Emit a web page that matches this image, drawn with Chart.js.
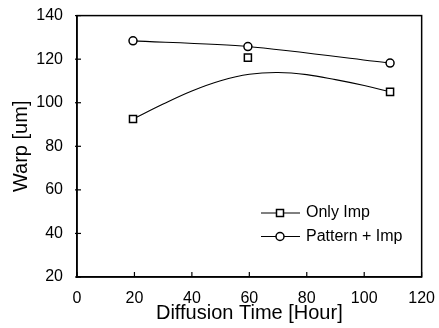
<!DOCTYPE html>
<html>
<head>
<meta charset="utf-8">
<script src="https://cdn.jsdelivr.net/npm/chart.js@4"></script>
<style>
  body { margin: 0; background: #fff; }
  #wrap { width: 439px; height: 328px; }
</style>
</head>
<body>
<div id="wrap"><canvas id="grafico" width="439" height="328"></canvas></div>
<script>
// dados
const horas = [19.5, 59.5, 109];
const onlyImp = [92.5, 120.7, 105];
const patternImp = [128.4, 125.8, 118.2];

// curva ajustada (Only Imp), lida ponto a ponto
const horasAjuste = [19.5, 30, 40, 50, 60, 70, 80, 90, 100, 109];
const valoresAjuste = [92.5, 99.4, 105.4, 110.1, 113.1, 113.9, 112.9, 110.6, 107.9, 105];

const xTicks = [0, 20, 40, 60, 80, 100, 120];
const yTicks = [20, 40, 60, 80, 100, 120, 140];

const legendas = ['Only Imp', 'Pattern + Imp'];

const fonte = "'Liberation Sans', Arial, sans-serif";

const pares = (xs, ys) => xs.map((x, i) => ({ x: x, y: ys[i] }));

// moldura + ticks para dentro
const molduraPlugin = {
  id: 'moldura',
  afterDraw(chart) {
    const { ctx, chartArea: a, scales } = chart;
    ctx.save();
    ctx.strokeStyle = '#000';
    ctx.lineWidth = 1.5;
    ctx.strokeRect(a.left, a.top, a.right - a.left, a.bottom - a.top);
    ctx.lineWidth = 1.2;
    xTicks.forEach(v => {
      const px = scales.x.getPixelForValue(v);
      ctx.beginPath();
      ctx.moveTo(px, a.bottom);
      ctx.lineTo(px, a.bottom - 5);
      ctx.stroke();
    });
    yTicks.forEach(v => {
      const py = scales.y.getPixelForValue(v);
      ctx.beginPath();
      ctx.moveTo(a.left - 2, py);
      ctx.lineTo(a.left + 4, py);
      ctx.stroke();
    });
    ctx.restore();
  }
};

// legenda dentro do grafico
const legendaPlugin = {
  id: 'legendaInterna',
  afterDraw(chart) {
    const { ctx } = chart;
    const itens = [
      { texto: legendas[0], ds: chart.data.datasets[0] },
      { texto: legendas[1], ds: chart.data.datasets[1] }
    ];
    ctx.save();
    ctx.font = '16px ' + fonte;
    ctx.textBaseline = 'middle';
    ctx.fillStyle = '#000';
    itens.forEach((it, i) => {
      const y = 213 + i * 23.5;
      ctx.strokeStyle = '#000';
      ctx.lineWidth = 1;
      ctx.beginPath();
      ctx.moveTo(261, y);
      ctx.lineTo(300, y);
      ctx.stroke();
      ctx.fillStyle = '#fff';
      ctx.lineWidth = 1.5;
      if (it.ds.pointStyle === 'rect') {
        ctx.fillRect(276.5, y - 3.5, 7, 7);
        ctx.strokeRect(276.5, y - 3.5, 7, 7);
      } else {
        ctx.beginPath();
        ctx.arc(280, y, 4, 0, Math.PI * 2);
        ctx.fill();
        ctx.stroke();
      }
      ctx.fillStyle = '#000';
      ctx.fillText(it.texto, 306, y);
    });
    ctx.restore();
  }
};

new Chart(document.getElementById('grafico'), {
  type: 'scatter',
  data: {
    datasets: [
      {
        label: legendas[0],
        data: pares(horas, onlyImp),
        showLine: false,
        pointStyle: 'rect',
        pointRadius: 5,
        pointBackgroundColor: '#fff',
        pointBorderColor: '#000',
        pointBorderWidth: 1.5
      },
      {
        label: legendas[1],
        data: pares(horas, patternImp),
        showLine: true,
        tension: 0.25,
        borderColor: '#000',
        borderWidth: 1.1,
        pointStyle: 'circle',
        pointRadius: 4,
        pointBackgroundColor: '#fff',
        pointBorderColor: '#000',
        pointBorderWidth: 1.5
      },
      {
        label: 'ajuste',
        data: pares(horasAjuste, valoresAjuste),
        showLine: true,
        tension: 0.4,
        borderColor: '#000',
        borderWidth: 1.1,
        pointRadius: 0
      }
    ]
  },
  options: {
    responsive: false,
    animation: false,
    events: [],
    layout: { padding: { top: 14, right: 13, left: 0, bottom: 0 } },
    plugins: {
      legend: { display: false },
      tooltip: { enabled: false }
    },
    scales: {
      x: {
        type: 'linear',
        min: 0,
        max: 120,
        afterFit: s => { s.height = 51; },
        afterBuildTicks: s => { s.ticks = xTicks.map(v => ({ value: v })); },
        grid: { display: false },
        border: { display: true, color: '#000', width: 1.5 },
        ticks: { color: '#000', padding: 4, font: { family: fonte, size: 16 } },
        title: {
          display: true,
          text: 'Diffusion Time [Hour]',
          color: '#000',
          font: { family: fonte, size: 20, lineHeight: 1 },
          padding: { top: 0, bottom: 5 }
        }
      },
      y: {
        type: 'linear',
        min: 20,
        max: 140,
        afterFit: s => { s.width = 77; },
        afterBuildTicks: s => { s.ticks = yTicks.map(v => ({ value: v })); },
        grid: { display: false },
        border: { display: true, color: '#000', width: 1.5 },
        ticks: { color: '#000', padding: 6, font: { family: fonte, size: 16 } },
        title: {
          display: true,
          text: 'Warp [um]',
          color: '#000',
          font: { family: fonte, size: 20, lineHeight: 1 },
          padding: { top: 11, bottom: 0 }
        }
      }
    }
  },
  plugins: [molduraPlugin, legendaPlugin]
});
</script>
</body>
</html>
